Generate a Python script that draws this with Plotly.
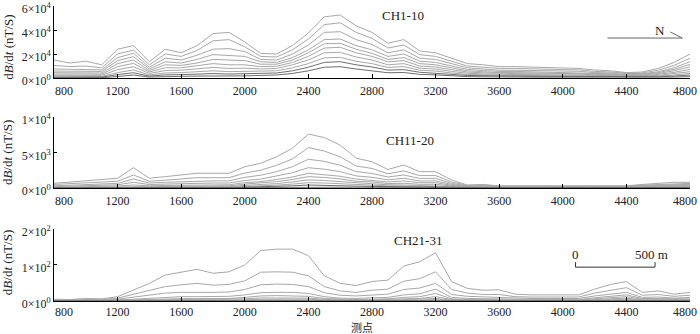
import plotly.graph_objects as go

# stazioni di misura (测点), passo 100
stations = list(range(800, 4900, 100))

# pannello 1: CH1-10, valori in unità di 1e4 nT/s
ch1 = [1.5, 1.25, 1.4, 1.1, 2.4, 2.7, 1.35, 2.4, 2.1, 2.7,
       3.7, 3.8, 3.0, 2.05, 2.0, 2.7, 3.75, 5.1, 5.25, 4.35,
       3.8, 2.9, 3.2, 2.25, 2.1, 1.65, 1.2, 1.1, 0.95, 0.95,
       0.9, 0.9, 0.85, 0.8, 0.67, 0.6, 0.45, 0.5, 0.8, 1.3,
       2.0]
ch2 = [1.05, 0.95, 1.0, 0.85, 2.0, 2.33, 1.1, 2.0, 1.8, 2.3,
       3.1, 3.2, 2.6, 1.8, 1.75, 2.35, 3.25, 4.45, 4.6, 3.8,
       3.3, 2.5, 2.75, 1.95, 1.8, 1.4, 1.0, 0.9, 0.8, 0.8,
       0.75, 0.75, 0.7, 0.68, 0.55, 0.5, 0.4, 0.42, 0.65, 1.05,
       1.65]
ch3 = [0.75, 0.72, 0.75, 0.68, 1.7, 2.06, 0.9, 1.65, 1.5, 1.9,
       2.4, 2.45, 2.2, 1.55, 1.5, 2.0, 2.75, 3.8, 3.86, 3.2,
       2.8, 2.1, 2.35, 1.65, 1.55, 1.2, 0.85, 0.75, 0.65, 0.65,
       0.62, 0.62, 0.58, 0.56, 0.45, 0.42, 0.35, 0.36, 0.52, 0.85,
       1.36]
ch4 = [0.58, 0.55, 0.58, 0.55, 1.45, 1.78, 0.75, 1.35, 1.25, 1.55,
       1.95, 1.9, 1.8, 1.35, 1.3, 1.7, 2.35, 3.2, 3.25, 2.7,
       2.35, 1.8, 2.0, 1.4, 1.3, 1.0, 0.72, 0.62, 0.55, 0.55,
       0.52, 0.52, 0.5, 0.47, 0.38, 0.35, 0.3, 0.3, 0.45, 0.72,
       1.14]
ch5 = [0.44, 0.42, 0.44, 0.42, 1.2, 1.5, 0.62, 1.1, 1.05, 1.25,
       1.55, 1.5, 1.45, 1.15, 1.15, 1.5, 2.1, 2.85, 2.89, 2.4,
       2.05, 1.55, 1.7, 1.2, 1.1, 0.85, 0.6, 0.52, 0.45, 0.45,
       0.43, 0.43, 0.42, 0.4, 0.32, 0.3, 0.26, 0.25, 0.38, 0.6,
       0.94]
ch6 = [0.33, 0.32, 0.33, 0.32, 0.95, 1.22, 0.5, 0.85, 0.85, 1.0,
       1.2, 1.1, 1.1, 0.95, 0.98, 1.3, 1.8, 2.5, 2.56, 2.1,
       1.8, 1.35, 1.45, 1.0, 0.92, 0.7, 0.5, 0.43, 0.37, 0.37,
       0.35, 0.35, 0.34, 0.33, 0.27, 0.25, 0.22, 0.2, 0.3, 0.47,
       0.72]
ch7 = [0.22, 0.22, 0.23, 0.22, 0.7, 0.94, 0.38, 0.62, 0.65, 0.75,
       0.88, 0.8, 0.82, 0.75, 0.8, 1.1, 1.5, 2.1, 2.14, 1.75,
       1.5, 1.1, 1.2, 0.82, 0.75, 0.55, 0.4, 0.34, 0.29, 0.29,
       0.28, 0.28, 0.27, 0.26, 0.22, 0.2, 0.18, 0.16, 0.22, 0.35,
       0.53]
ch8 = [0.11, 0.12, 0.13, 0.13, 0.45, 0.67, 0.26, 0.42, 0.45, 0.52,
       0.6, 0.53, 0.56, 0.55, 0.6, 0.85, 1.2, 1.68, 1.72, 1.4,
       1.2, 0.88, 0.95, 0.65, 0.58, 0.42, 0.3, 0.26, 0.22, 0.22,
       0.21, 0.21, 0.2, 0.19, 0.17, 0.15, 0.13, 0.12, 0.16, 0.25,
       0.39]
ch9 = [0.05, 0.06, 0.07, 0.07, 0.28, 0.44, 0.16, 0.26, 0.28, 0.32,
       0.37, 0.33, 0.35, 0.36, 0.42, 0.6, 0.9, 1.3, 1.36, 1.1,
       0.92, 0.66, 0.7, 0.48, 0.42, 0.3, 0.21, 0.18, 0.15, 0.15,
       0.14, 0.14, 0.13, 0.13, 0.11, 0.1, 0.08, 0.08, 0.1, 0.16,
       0.25]
ch10 = [0.02, 0.03, 0.03, 0.03, 0.12, 0.25, 0.08, 0.13, 0.14, 0.16,
        0.19, 0.17, 0.18, 0.2, 0.25, 0.38, 0.6, 0.9, 0.94, 0.75,
        0.62, 0.44, 0.46, 0.3, 0.26, 0.18, 0.12, 0.1, 0.08, 0.08,
        0.08, 0.07, 0.07, 0.07, 0.06, 0.05, 0.04, 0.04, 0.05, 0.08,
        0.12]

# pannello 2: CH11-20, valori in unità di 1e3 nT/s
ch11 = [0.66, 0.84, 1.0, 1.2, 1.37, 2.86, 1.37, 1.6, 1.83, 2.07,
        2.07, 2.07, 3.0, 3.48, 4.4, 5.6, 7.6, 7.1, 6.05, 4.2,
        3.7, 2.6, 3.24, 2.3, 2.3, 1.13, 0.42, 0.5, 0.3, 0.3,
        0.3, 0.3, 0.3, 0.3, 0.3, 0.3, 0.3, 0.5, 0.65, 0.8,
        0.8]
ch12 = [0.5, 0.6, 0.7, 0.8, 0.95, 1.83, 0.95, 1.1, 1.25, 1.45,
        1.45, 1.45, 2.1, 2.5, 3.2, 4.1, 5.7, 5.2, 4.4, 3.1,
        2.75, 2.0, 2.4, 1.75, 1.75, 0.85, 0.35, 0.4, 0.25, 0.25,
        0.25, 0.25, 0.25, 0.25, 0.25, 0.25, 0.25, 0.4, 0.5, 0.62,
        0.65]
ch13 = [0.3, 0.4, 0.48, 0.55, 0.65, 1.27, 0.7, 0.8, 0.9, 1.0,
        1.0, 1.0, 1.5, 1.8, 2.3, 3.0, 4.05, 3.75, 3.2, 2.3,
        2.05, 1.55, 1.83, 1.35, 1.35, 0.65, 0.28, 0.32, 0.2, 0.2,
        0.2, 0.2, 0.2, 0.2, 0.2, 0.2, 0.2, 0.32, 0.4, 0.5,
        0.52]
ch14 = [0.18, 0.25, 0.3, 0.36, 0.45, 0.8, 0.48, 0.55, 0.62, 0.7,
        0.7, 0.7, 1.05, 1.25, 1.65, 2.15, 2.86, 2.65, 2.3, 1.7,
        1.5, 1.15, 1.37, 1.0, 1.0, 0.5, 0.22, 0.25, 0.16, 0.16,
        0.16, 0.16, 0.16, 0.16, 0.16, 0.16, 0.16, 0.25, 0.32, 0.4,
        0.42]
ch15 = [0.1, 0.14, 0.18, 0.22, 0.28, 0.42, 0.3, 0.35, 0.4, 0.45,
        0.45, 0.45, 0.75, 0.9, 1.2, 1.55, 2.07, 1.9, 1.65, 1.25,
        1.1, 0.85, 0.99, 0.75, 0.75, 0.38, 0.17, 0.2, 0.12, 0.12,
        0.12, 0.12, 0.12, 0.12, 0.12, 0.12, 0.12, 0.2, 0.25, 0.3,
        0.32]
ch16 = [0.05, 0.08, 0.1, 0.13, 0.17, 0.18, 0.18, 0.22, 0.26, 0.3,
        0.3, 0.3, 0.55, 0.68, 0.9, 1.2, 1.6, 1.48, 1.28, 0.95,
        0.85, 0.62, 0.66, 0.52, 0.52, 0.28, 0.13, 0.15, 0.1, 0.1,
        0.1, 0.1, 0.1, 0.1, 0.1, 0.1, 0.1, 0.15, 0.2, 0.24,
        0.25]
ch17 = [0.03, 0.04, 0.05, 0.07, 0.1, 0.1, 0.1, 0.13, 0.16, 0.19,
        0.19, 0.19, 0.36, 0.45, 0.62, 0.85, 1.13, 1.05, 0.9, 0.68,
        0.6, 0.45, 0.42, 0.36, 0.36, 0.2, 0.1, 0.11, 0.07, 0.07,
        0.07, 0.07, 0.07, 0.07, 0.07, 0.07, 0.07, 0.11, 0.15, 0.18,
        0.18]
ch18 = [0.02, 0.02, 0.03, 0.04, 0.05, 0.05, 0.06, 0.07, 0.09, 0.11,
        0.11, 0.11, 0.22, 0.28, 0.4, 0.55, 0.75, 0.7, 0.6, 0.45,
        0.4, 0.3, 0.28, 0.24, 0.24, 0.13, 0.06, 0.07, 0.05, 0.05,
        0.05, 0.05, 0.05, 0.05, 0.05, 0.05, 0.05, 0.07, 0.1, 0.12,
        0.12]
ch19 = [0.01, 0.01, 0.02, 0.02, 0.03, 0.03, 0.03, 0.04, 0.05, 0.06,
        0.06, 0.06, 0.12, 0.15, 0.22, 0.3, 0.42, 0.4, 0.34, 0.26,
        0.23, 0.17, 0.16, 0.14, 0.14, 0.08, 0.04, 0.04, 0.03, 0.03,
        0.03, 0.03, 0.03, 0.03, 0.03, 0.03, 0.03, 0.04, 0.06, 0.07,
        0.07]
ch20 = [0.0, 0.01, 0.01, 0.01, 0.01, 0.01, 0.01, 0.02, 0.02, 0.03,
        0.03, 0.03, 0.05, 0.07, 0.1, 0.13, 0.18, 0.17, 0.15, 0.11,
        0.1, 0.08, 0.07, 0.06, 0.06, 0.04, 0.02, 0.02, 0.01, 0.01,
        0.01, 0.01, 0.01, 0.01, 0.01, 0.01, 0.01, 0.02, 0.03, 0.03,
        0.03]

# pannello 3: CH21-31, valori in nT/s
ch21 = [5, 4, 7, 6, 12, 30, 49, 72, 81, 88,
        77, 81, 100, 140, 144, 144, 126, 70, 49, 43,
        54, 58, 97, 109, 134, 54, 35, 30, 31, 19,
        17, 17, 17, 17, 33, 46, 54, 24, 28, 19,
        24]
ch22 = [3, 3, 5, 4, 8, 18, 28, 40, 45, 49,
        44, 46, 56, 80, 81, 80, 70, 40, 28, 24,
        30, 33, 55, 62, 81, 32, 22, 18, 18, 12,
        11, 11, 11, 11, 22, 30, 37, 16, 18, 13,
        16]
ch23 = [2, 2, 3, 3, 5, 10, 16, 22, 24, 23,
        24, 25, 32, 45, 47, 46, 40, 23, 16, 14,
        17, 19, 32, 36, 49, 18, 13, 11, 11, 8,
        7, 7, 7, 7, 14, 19, 24, 10, 11, 8,
        10]
ch24 = [1, 1, 2, 2, 3, 5, 8, 11, 12, 12,
        12, 13, 17, 23, 24, 24, 21, 12, 8, 7,
        9, 10, 17, 20, 33, 10, 7, 6, 6, 5,
        4, 4, 4, 4, 9, 13, 17, 7, 7, 5,
        6]
ch25 = [1, 1, 1, 1, 2, 3, 4, 6, 6.5, 6.5,
        6.5, 7, 10, 14, 15, 15, 13, 7, 5, 4,
        5, 6, 10, 12, 21, 6, 4, 4, 4, 3,
        3, 3, 3, 3, 6, 9, 12, 5, 5, 3.5,
        4]
ch26 = [0.5, 0.5, 0.8, 0.8, 1.2, 2, 2.5, 3.5, 4, 4,
        4, 4.5, 6, 8.5, 9, 9, 8, 4.5, 3, 2.5,
        3, 3.5, 6, 7, 12, 4, 2.5, 2.5, 2.5, 2,
        2, 2, 2, 2, 4, 6, 8, 3, 3, 2.5,
        3]
ch27 = [0.3, 0.3, 0.5, 0.5, 0.8, 1.2, 1.5, 2, 2.5, 2.5,
        2.5, 2.8, 3.5, 5, 5.5, 5.5, 5, 2.8, 2, 1.5,
        2, 2.2, 3.5, 4, 7, 2.5, 1.5, 1.5, 1.5, 1.2,
        1.2, 1.2, 1.2, 1.2, 2.5, 3.5, 5, 2, 2, 1.5,
        2]
ch28 = [0.2, 0.2, 0.3, 0.3, 0.5, 0.7, 0.9, 1.2, 1.5, 1.5,
        1.5, 1.7, 2, 3, 3.2, 3.2, 3, 1.7, 1.2, 1,
        1.2, 1.3, 2, 2.5, 4, 1.5, 1, 1, 1, 0.8,
        0.8, 0.8, 0.8, 0.8, 1.5, 2, 3, 1.2, 1.2, 1,
        1.2]
ch29 = [0.1, 0.1, 0.2, 0.2, 0.3, 0.4, 0.5, 0.7, 0.8, 0.8,
        0.8, 0.9, 1.1, 1.7, 1.8, 1.8, 1.6, 1, 0.7, 0.6,
        0.7, 0.7, 1.1, 1.4, 2.3, 0.8, 0.6, 0.5, 0.5, 0.4,
        0.4, 0.4, 0.4, 0.4, 0.8, 1.1, 1.7, 0.7, 0.7, 0.5,
        0.7]
ch30 = [0.05, 0.05, 0.1, 0.1, 0.15, 0.2, 0.3, 0.4, 0.45, 0.45,
        0.45, 0.5, 0.6, 0.9, 1, 1, 0.9, 0.5, 0.4, 0.3,
        0.4, 0.4, 0.6, 0.8, 1.2, 0.4, 0.3, 0.3, 0.3, 0.2,
        0.2, 0.2, 0.2, 0.2, 0.4, 0.6, 0.9, 0.4, 0.4, 0.3,
        0.4]
ch31 = [0.02, 0.02, 0.05, 0.05, 0.08, 0.1, 0.15, 0.2, 0.22, 0.22,
        0.22, 0.25, 0.3, 0.45, 0.5, 0.5, 0.45, 0.25, 0.2, 0.15,
        0.2, 0.2, 0.3, 0.4, 0.6, 0.2, 0.15, 0.15, 0.15, 0.1,
        0.1, 0.1, 0.1, 0.1, 0.2, 0.3, 0.45, 0.2, 0.2, 0.15,
        0.2]

panel1 = [ch1, ch2, ch3, ch4, ch5, ch6, ch7, ch8, ch9, ch10]
panel2 = [ch11, ch12, ch13, ch14, ch15, ch16, ch17, ch18, ch19, ch20]
panel3 = [ch21, ch22, ch23, ch24, ch25, ch26, ch27, ch28, ch29, ch30, ch31]

x_ticks = list(range(800, 4801, 400))
# le etichette 800 e 4800 sono scritte a parte (spostate verso l'interno)
x_text = [''] + [str(v) for v in x_ticks[1:-1]] + ['']
y1_ticks = [0, 2, 4, 6]
y1_text = ['0×10<sup>0</sup>', '2×10<sup>4</sup>', '4×10<sup>4</sup>', '6×10<sup>4</sup>']
y2_ticks = [0, 5, 10]
y2_text = ['0×10<sup>0</sup>', '5×10<sup>3</sup>', '1×10<sup>4</sup>']
y3_ticks = [0, 100, 200]
y3_text = ['0×10<sup>0</sup>', '1×10<sup>2</sup>', '2×10<sup>2</sup>']

serif = 'Liberation Serif, Times New Roman, serif'
txt = '#222'

fig = go.Figure()

# disegno le curve: le ultime (più deboli) più scure
for panel, axn in [(panel1, ''), (panel2, '2'), (panel3, '3')]:
    n = len(panel)
    for i, vals in enumerate(panel):
        col = '#a8a8a8' if i < n - 2 else '#6e6e6e'
        fig.add_trace(go.Scatter(x=stations, y=vals, mode='lines',
                                 line=dict(color=col, width=1),
                                 xaxis='x' + axn, yaxis='y' + axn,
                                 hoverinfo='skip', showlegend=False))

xcommon = dict(range=[800, 4800], tickvals=x_ticks, ticktext=x_text, showline=True,
               linecolor='black', linewidth=1, ticks='inside', ticklen=4, tickcolor='black',
               showgrid=False, zeroline=False, automargin=False, ticklabeloverflow='allow',
               tickfont=dict(family=serif, size=12, color=txt))
ycommon = dict(showline=True, linecolor='black', linewidth=1, ticks='inside', ticklen=3,
               tickcolor='black', showgrid=False, zeroline=False, automargin=False,
               ticklabeloverflow='allow', ticklabelshift=3,
               tickfont=dict(family=serif, size=12, color=txt))

fig.update_layout(
    width=700, height=334,
    margin=dict(l=54, r=10, t=6, b=33),
    paper_bgcolor='white', plot_bgcolor='white',
    showlegend=False,
    xaxis=dict(anchor='y', ticklabelstandoff=2, **xcommon),
    xaxis2=dict(anchor='y2', ticklabelstandoff=2, **xcommon),
    xaxis3=dict(anchor='y3', ticklabelstandoff=0, **xcommon),
    yaxis=dict(domain=[0.7559, 1], range=[0, 6], tickvals=y1_ticks, ticktext=y1_text,
               anchor='x', **ycommon),
    yaxis2=dict(domain=[0.3831, 0.6237], range=[0, 10], tickvals=y2_ticks, ticktext=y2_text,
                anchor='x2', **ycommon),
    yaxis3=dict(domain=[0, 0.2441], range=[0, 200], tickvals=y3_ticks, ticktext=y3_text,
                anchor='x3', **ycommon),
)

# etichette 800 e 4800 per ogni pannello
for ya, ys in [(0.7559, -4), (0.3831, -4), (0.0, -2)]:
    fig.add_annotation(text='800', xref='paper', yref='paper', x=-0.002, y=ya,
                       xanchor='left', yanchor='top', yshift=ys, showarrow=False,
                       font=dict(family=serif, size=12, color=txt))
    fig.add_annotation(text='4800', xref='paper', yref='paper', x=1.0142, y=ya,
                       xanchor='right', yanchor='top', yshift=ys, showarrow=False,
                       font=dict(family=serif, size=12, color=txt))

# titoli asse y
ytitle = 'd<i>B</i>/d<i>t</i> (nT/S)'
for yc in [0.859, 0.502, 0.129]:
    fig.add_annotation(text=ytitle, xref='paper', yref='paper', x=-0.072, y=yc,
                       xanchor='center', yanchor='middle',
                       textangle=-90, showarrow=False,
                       font=dict(family=serif, size=13, color=txt))

fig.add_annotation(text='CH1-10', xref='x', yref='y', x=2994, y=5.25, showarrow=False,
                   font=dict(family=serif, size=13, color=txt))
fig.add_annotation(text='CH11-20', xref='x2', yref='y2', x=3040, y=6.76, showarrow=False,
                   font=dict(family=serif, size=13, color=txt))
fig.add_annotation(text='CH21-31', xref='x3', yref='y3', x=3089, y=167, showarrow=False,
                   font=dict(family=serif, size=13, color=txt))
fig.add_annotation(text='测点', xref='x3', yref='paper', x=2735, y=-0.0881, showarrow=False,
                   yanchor='middle',
                   font=dict(family='Noto Sans CJK SC', size=11, color=txt))

# freccia nord
fig.add_shape(type='line', xref='x', yref='y', x0=4281, y0=3.33, x1=4752, y1=3.33,
              line=dict(color='#666', width=1))
fig.add_shape(type='line', xref='x', yref='y', x0=4677, y0=3.83, x1=4752, y1=3.33,
              line=dict(color='#666', width=1))
fig.add_annotation(text='N', xref='x', yref='y', x=4610, y=4.0, showarrow=False,
                   font=dict(family=serif, size=13, color=txt))

# barra di scala
fig.add_shape(type='line', xref='x3', yref='y3', x0=4080, y0=94, x1=4580, y1=94,
              line=dict(color='#333', width=1))
fig.add_shape(type='line', xref='x3', yref='y3', x0=4080, y0=94, x1=4080, y1=108,
              line=dict(color='#333', width=1))
fig.add_shape(type='line', xref='x3', yref='y3', x0=4580, y0=94, x1=4580, y1=108,
              line=dict(color='#333', width=1))
fig.add_annotation(text='0', xref='x3', yref='y3', x=4080, y=128, showarrow=False,
                   font=dict(family=serif, size=13, color=txt))
fig.add_annotation(text='500 m', xref='x3', yref='y3', x=4560, y=128, showarrow=False,
                   font=dict(family=serif, size=13, color=txt))

# tolgo il margine di default della pagina e la barra dei comandi
fig.write_html("out.html", config={'displayModeBar': False},
               post_script="document.body.style.margin='0';")
